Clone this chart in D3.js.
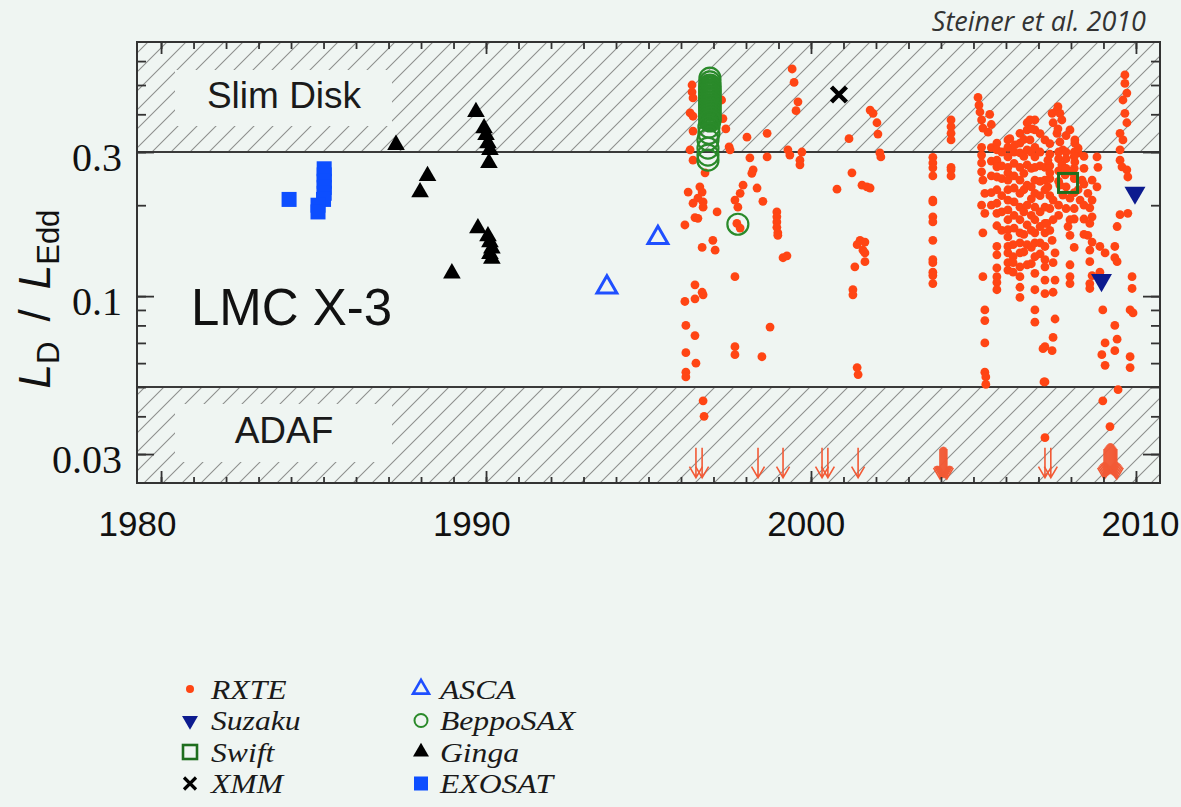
<!DOCTYPE html>
<html><head><meta charset="utf-8">
<script src="https://cdn.jsdelivr.net/npm/d3@7"></script>
<style>html,body{margin:0;padding:0;background:#eff5f2}svg{display:block}</style>
</head><body>
<svg id="chart" width="1181" height="807"></svg>
<script>
// ---------------- DATA ----------------
const rxte = [
[1996.34,0.500],[1996.34,0.474],[1996.37,0.453],[1996.28,0.404],[1996.37,0.394],[1996.37,0.352],[1996.28,0.305],[1996.37,0.282],[1996.74,0.256],[1996.22,0.221],[1996.58,0.230],[1996.65,0.221],[1996.52,0.211],[1996.37,0.203],[1996.68,0.205],[1996.68,0.197],[1996.43,0.182],[1996.52,0.181],[1996.12,0.172],[1997.11,0.190],[1996.98,0.153],[1996.65,0.145],[1997.05,0.142],[1996.43,0.109],[1996.65,0.103],[1996.68,0.101],[1996.43,0.098],[1996.12,0.096],[1996.15,0.080],[1996.43,0.074],[1996.15,0.065],[1996.46,0.060],[1996.15,0.056],[1996.15,0.054],[1996.68,0.045],[1996.71,0.040],[1997.25,0.446],
[1997.29,0.387],[1997.38,0.358],[1997.48,0.312],[1997.51,0.305],[1998.03,0.336],[1998.12,0.287],[1998.65,0.346],[1998.65,0.289],[1998.22,0.262],[1998.18,0.255],[1997.91,0.233],[1998.34,0.228],[1997.82,0.219],[1997.66,0.208],[1997.75,0.197],[1998.52,0.206],[1997.72,0.174],[1997.82,0.168],[1997.66,0.116],[1998.74,0.079],[1997.66,0.068],[1997.66,0.064],[1998.49,0.063],
[1998.95,0.190],[1998.95,0.183],[1998.95,0.176],[1998.95,0.169],[1998.98,0.162],[1998.98,0.159],[1999.14,0.134],[1999.26,0.136],
[1999.42,0.565],[1999.48,0.510],[1999.6,0.440],[1999.54,0.411],[1999.29,0.305],[1999.35,0.293],[1999.72,0.300],[1999.66,0.282],[1999.66,0.272],
[2000.8,0.226],[2001.26,0.256],[2001.17,0.332],[2001.57,0.233],[2001.72,0.230],[2001.82,0.228],[2001.82,0.413],[2001.91,0.403],[2002.03,0.375],[2002.06,0.344],[2002.12,0.298],[2002.15,0.289],[2001.51,0.153],[2001.66,0.151],[2001.42,0.148],[2001.6,0.142],[2001.66,0.139],[2001.66,0.130],[2001.35,0.125],[2001.29,0.105],[2001.29,0.101],[2001.42,0.058],[2001.45,0.055],
[2003.75,0.288],[2003.75,0.276],[2003.75,0.266],[2003.75,0.250],[2003.75,0.208],[2003.75,0.205],[2003.75,0.183],[2003.75,0.176],[2003.75,0.153],[2003.75,0.132],[2003.75,0.129],[2003.75,0.120],[2003.75,0.117],[2003.75,0.110],
[2004.31,0.383],[2004.31,0.364],[2004.31,0.346],[2004.31,0.329],[2004.31,0.267],[2004.31,0.262],[2004.31,0.250],
[2005.14,0.455],[2005.17,0.429],[2005.2,0.407],[2005.25,0.383],[2005.29,0.360],[2005.45,0.349],[2005.25,0.311],[2005.25,0.293],[2005.25,0.276],[2005.25,0.258],[2005.29,0.242],[2005.35,0.219],[2005.25,0.200],[2005.35,0.188],[2005.29,0.162],[2005.29,0.116],[2005.35,0.090],[2005.35,0.083],[2005.35,0.070],[2005.35,0.056],[2005.38,0.054],[2005.38,0.051],[2005.5,0.400],[2005.55,0.370],
[2005.55,0.310],[2005.55,0.280],[2005.55,0.250],[2005.55,0.220],[2005.55,0.200],
[2005.72,0.321],[2005.72,0.305],[2005.72,0.282],[2005.72,0.268],[2005.72,0.248],[2005.72,0.225],[2005.72,0.203],[2005.72,0.188],[2005.72,0.171],[2005.72,0.146],[2005.72,0.137],[2005.72,0.124],[2005.72,0.116],[2005.72,0.111],[2005.72,0.105],
[2005.87,0.300],[2005.87,0.270],[2005.87,0.245],[2005.87,0.215],[2005.87,0.190],[2005.87,0.165],
[2006.06,0.329],[2006.06,0.311],[2006.06,0.289],[2006.06,0.267],[2006.06,0.256],[2006.06,0.242],[2006.06,0.225],[2006.06,0.208],[2006.06,0.193],[2006.06,0.179],[2006.06,0.166],[2006.06,0.157],[2006.06,0.146],[2006.06,0.139],[2006.06,0.129],[2006.06,0.122],
[2006.22,0.148],[2006.22,0.135],[2006.22,0.129],[2006.22,0.120],
[2006.25,0.300],[2006.25,0.275],[2006.25,0.250],[2006.25,0.228],[2006.25,0.205],[2006.25,0.185],[2006.25,0.168],
[2006.43,0.346],[2006.43,0.321],[2006.43,0.298],[2006.43,0.267],[2006.43,0.242],[2006.43,0.219],[2006.43,0.197],[2006.43,0.179],[2006.43,0.162],[2006.43,0.150],[2006.43,0.139],[2006.43,0.125],[2006.43,0.116],[2006.43,0.107],[2006.43,0.099],
[2006.55,0.330],[2006.55,0.290],[2006.55,0.255],[2006.55,0.225],[2006.55,0.190],[2006.55,0.160],[2006.55,0.140],
[2006.65,0.375],[2006.65,0.355],[2006.65,0.305],[2006.65,0.272],[2006.65,0.233],[2006.65,0.200],[2006.65,0.172],[2006.65,0.148],[2006.65,0.127],
[2006.78,0.300],[2006.78,0.265],[2006.78,0.230],[2006.78,0.210],[2006.78,0.185],[2006.78,0.165],[2006.78,0.145],[2006.78,0.128],
[2006.89,0.383],[2006.89,0.355],[2006.89,0.311],[2006.89,0.289],[2006.89,0.267],[2006.89,0.242],[2006.89,0.219],[2006.89,0.197],[2006.89,0.179],[2006.89,0.162],[2006.89,0.150],[2006.89,0.135],[2006.89,0.119],[2006.89,0.105],[2006.89,0.090],[2006.89,0.082],
[2007.05,0.345],[2007.05,0.300],[2007.05,0.270],[2007.05,0.240],[2007.05,0.215],[2007.05,0.190],[2007.05,0.170],[2007.05,0.150],[2007.05,0.138],
[2007.2,0.329],[2007.2,0.267],[2007.2,0.242],[2007.2,0.225],[2007.2,0.197],[2007.2,0.174],[2007.2,0.162],[2007.2,0.146],[2007.2,0.132],[2007.2,0.125],[2007.2,0.113],[2007.2,0.102],[2007.2,0.068],[2007.2,0.052],[2007.2,0.034],
[2007.35,0.320],[2007.35,0.295],[2007.35,0.270],[2007.35,0.245],[2007.35,0.215],[2007.35,0.195],[2007.35,0.165],
[2007.42,0.403],[2007.57,0.413],[2007.66,0.403],[2007.45,0.375],[2007.57,0.346],[2007.66,0.324],[2007.75,0.305],[2007.29,0.282],[2007.35,0.256],[2007.29,0.230],[2007.45,0.208],[2007.26,0.174],[2007.45,0.179],[2007.42,0.153],[2007.51,0.139],[2007.45,0.129],[2007.51,0.113],[2007.45,0.103],[2007.51,0.084],[2007.45,0.073],[2007.14,0.067],[2007.42,0.066],[2007.17,0.052],
[2007.62,0.300],[2007.62,0.285],[2007.62,0.260],[2007.62,0.240],[2007.62,0.200],[2007.62,0.185],
[2007.72,0.272],[2007.82,0.252],[2007.66,0.233],[2007.75,0.216],
[2007.85,0.340],[2007.85,0.300],[2007.85,0.285],[2007.85,0.265],[2007.85,0.230],[2007.85,0.195],
[2007.97,0.355],[2008.12,0.321],[2008.22,0.298],[2008.12,0.278],[2008.06,0.256],[2008.34,0.242],[2007.97,0.211],[2007.97,0.179],[2007.91,0.170],[2007.97,0.159],[2007.97,0.127],[2007.97,0.116],[2007.97,0.110],[2008.22,0.225],[2008.28,0.208],
[2008.1,0.300],[2008.1,0.290],[2008.1,0.265],[2008.1,0.245],[2008.1,0.220],[2008.1,0.195],[2008.1,0.180],[2008.1,0.145],
[2008.4,0.290],[2008.4,0.265],[2008.4,0.235],[2008.4,0.200],[2008.4,0.180],[2008.4,0.160],
[2008.8,0.289],[2008.83,0.267],[2008.65,0.242],[2008.8,0.230],[2008.52,0.219],[2008.65,0.208],[2008.58,0.196],[2008.65,0.183],[2008.58,0.174],[2008.52,0.159],[2008.65,0.151],[2008.58,0.142],[2008.58,0.130],[2008.65,0.117],[2008.58,0.110],[2008.58,0.106],
[2008.89,0.146],[2009.05,0.139],[2008.89,0.120],[2008.98,0.090],[2009.35,0.080],[2009.05,0.070],[2009.05,0.059],[2008.98,0.045],[2009.45,0.049],[2009.2,0.037],[2009.42,0.072],[2009.35,0.066],[2008.95,0.064],[2009.42,0.130],[2009.35,0.134],[2009.42,0.170],[2009.35,0.146],[2009.51,0.186],[2009.75,0.188],
[2009.66,0.540],[2009.66,0.506],[2009.72,0.470],[2009.6,0.446],[2009.66,0.403],[2009.72,0.375],[2009.51,0.346],[2009.6,0.329],[2009.51,0.305],[2009.51,0.282],[2009.57,0.268],[2009.72,0.262],[2009.75,0.248],
[2009.88,0.116],[2009.88,0.106],[2009.82,0.090],[2009.91,0.088],[2009.82,0.063],[2009.82,0.058],
[2006.12,0.332],[2006.28,0.317],[2006.74,0.383],[2006.8,0.358],[2006.74,0.329],[2007.6,0.424],[2007.72,0.383],[2007.6,0.358],[2008.12,0.329],[2008.22,0.309]
];
const rxteUpperYears  = [1996.46,1996.65,1998.37,1999.14,2000.34,2000.52,2001.45,
                         2003.97,2004.0,2004.03,2004.06,2004.09,2004.12,2004.15,2004.18,
                         2007.2,2007.38,
                         2009.02,2009.05,2009.08,2009.11,2009.14,2009.17,2009.2,2009.23,2009.26,2009.29,2009.32,2009.35,2009.38,2009.41];
const rxteUpperValues = [0.0315,0.0315,0.0315,0.0315,0.0315,0.0315,0.0315,
                         0.0312,0.0315,0.0316,0.0317,0.0317,0.0316,0.0315,0.0312,
                         0.0315,0.0315,
                         0.0312,0.0315,0.0318,0.0321,0.0323,0.0325,0.0326,0.0326,0.0325,0.0323,0.0321,0.0318,0.0315,0.0312];
const suzaku   = [[2008.94,0.113],[2009.97,0.220]];
const swift    = [[2007.91,0.237]];
const xmm      = [[2000.86,0.465]];
const asca     = [[1993.72,0.107],[1995.29,0.156]];
const beppoSAX = [[1996.89,0.527],[1996.89,0.512],[1996.89,0.500],[1996.89,0.494],[1996.89,0.488],[1996.89,0.482],[1996.89,0.477],[1996.89,0.472],[1996.89,0.467],[1996.89,0.461],[1996.89,0.456],[1996.89,0.451],[1996.89,0.446],[1996.89,0.441],[1996.89,0.436],[1996.89,0.431],[1996.89,0.426],[1996.89,0.421],[1996.89,0.417],[1996.89,0.412],[1996.89,0.407],[1996.89,0.402],[1996.89,0.398],[1996.89,0.393],[1996.89,0.389],[1996.89,0.384],[1996.89,0.380],[1996.86,0.363],[1996.86,0.346],[1996.83,0.329],[1996.83,0.309],[1996.83,0.293],[1996.83,0.282],[1997.75,0.173]];
const ginga    = [[1987.23,0.317],[1987.97,0.221],[1988.2,0.250],[1988.95,0.119],[1989.69,0.407],[1989.94,0.360],[1990.0,0.342],[1990.06,0.321],[1990.12,0.305],[1990.09,0.276],[1989.75,0.168],[1990.06,0.158],[1990.12,0.151],[1990.18,0.144],[1990.12,0.138],[1990.18,0.133]];
const exosat   = [[1983.94,0.209],[1985.02,0.264],[1985.02,0.252],[1985.02,0.240],[1985.02,0.229],[1985.02,0.219],[1985.0,0.209],[1984.83,0.200],[1984.83,0.190]];
const regionLimits = [0.05, 0.3];          // ADAF below, slim disk above
const xTickLabels  = [1980, 1990, 2000, 2010];
const xMinorTicks  = d3.range(1980, 2011);
const yTickLabels  = [0.03, 0.1, 0.3];
const yMinorTicks  = [0.03,0.04,0.05,0.06,0.07,0.08,0.09,0.1,0.2,0.3,0.4,0.5,0.6];
const legendCol1   = ["RXTE","Suzaku","Swift","XMM"];
const legendCol2   = ["ASCA","BeppoSAX","Ginga","EXOSAT"];

// ---------------- LAYOUT ----------------
const L = 137, R = 1160, T = 42, B = 483;
const svg = d3.select("#chart");
const x = d3.scaleLinear().domain([1979.26, 2010.74]).range([L, R]);
const y = d3.scaleLog().domain([0.02406, 0.694]).range([B, T]);
const xLab = d3.scaleLinear().domain([1980, 2010]).range([137, 1140]);

const C = {rxte:"#ff4514", suzaku:"#0c1b8f", swift:"#1e6e1e", xmm:"#000", asca:"#1f4fff", beppo:"#2a8a2a", ginga:"#000", exosat:"#0d4eff", arrow:"#f25a36"};

svg.append("rect").attr("width",1181).attr("height",807).attr("fill","#eff5f2");

const defs = svg.append("defs");
const pat = defs.append("pattern").attr("id","hatch").attr("patternUnits","userSpaceOnUse").attr("width",19).attr("height",19);
pat.append("path").attr("d","M-2,2 L2,-2 M0,19 L19,0 M17,21 L21,17").attr("stroke","#8e8f8e").attr("stroke-width",1.1);

svg.append("rect").attr("x",L).attr("y",T).attr("width",R-L).attr("height",y(regionLimits[1])-T).attr("fill","url(#hatch)");
svg.append("rect").attr("x",L).attr("y",y(regionLimits[0])).attr("width",R-L).attr("height",B-y(regionLimits[0])).attr("fill","url(#hatch)");
svg.append("rect").attr("x",175).attr("y",70).attr("width",217).attr("height",56).attr("fill","#eff5f2");
svg.append("rect").attr("x",175).attr("y",404).attr("width",217).attr("height",58).attr("fill","#eff5f2");
svg.append("text").attr("x",284).attr("y",108).attr("text-anchor","middle").attr("font-family","Liberation Sans, Arial").attr("font-size",37).attr("fill","#1a1a1a").text("Slim Disk");
svg.append("text").attr("x",284).attr("y",443).attr("text-anchor","middle").attr("font-family","Liberation Sans, Arial").attr("font-size",37).attr("fill","#1a1a1a").text("ADAF");
svg.append("text").attr("x",191).attr("y",325).attr("font-family","Liberation Sans, Arial").attr("font-size",51).attr("fill","#111").text("LMC X-3");

svg.selectAll("line.reg").data(regionLimits).join("line").attr("class","reg")
  .attr("x1",L).attr("x2",R).attr("y1",d=>y(d)).attr("y2",d=>y(d)).attr("stroke","#3a3a3a").attr("stroke-width",2);

// ---------------- MARKS ----------------
const g = svg.append("g");
g.selectAll("circle.rxte").data(rxte).join("circle").attr("class","rxte")
  .attr("cx",d=>x(d[0])).attr("cy",d=>y(d[1])).attr("r",4.4).attr("fill",C.rxte);

const arrowLen = 30;
g.selectAll("path.ul").data(rxteUpperYears.map((yr,i)=>[yr,rxteUpperValues[i]])).join("path").attr("class","ul")
  .attr("d",d=>{const cx=x(d[0]), y0=y(d[1]), y1=y0+arrowLen; return `M${cx},${y0} L${cx},${y1} M${cx-6.5},${y1-11} L${cx},${y1} L${cx+6.5},${y1-11}`;})
  .attr("fill","none").attr("stroke",C.arrow).attr("stroke-width",1.6);

const tri = d3.symbol(d3.symbolTriangle);
g.selectAll("path.ginga").data(ginga).join("path").attr("class","ginga")
  .attr("transform",d=>`translate(${x(d[0])},${y(d[1])})`).attr("d",tri.size(135)()).attr("fill",C.ginga);
g.selectAll("rect.exosat").data(exosat).join("rect").attr("class","exosat")
  .attr("x",d=>x(d[0])-7.5).attr("y",d=>y(d[1])-7.5).attr("width",15).attr("height",15).attr("fill",C.exosat);
g.selectAll("path.asca").data(asca).join("path").attr("class","asca")
  .attr("transform",d=>`translate(${x(d[0])},${y(d[1])})`).attr("d",d3.symbol(d3.symbolTriangle,170)()).attr("fill","none").attr("stroke",C.asca).attr("stroke-width",3);
g.selectAll("circle.beppo").data(beppoSAX).join("circle").attr("class","beppo")
  .attr("cx",d=>x(d[0])).attr("cy",d=>y(d[1])).attr("r",10.5).attr("fill","none").attr("stroke",C.beppo).attr("stroke-width",2.2);
g.selectAll("path.xmm").data(xmm).join("path").attr("class","xmm")
  .attr("d",d=>{const cx=x(d[0]),cy=y(d[1]),r=7.5;return `M${cx-r},${cy-r}L${cx+r},${cy+r}M${cx-r},${cy+r}L${cx+r},${cy-r}`;})
  .attr("stroke",C.xmm).attr("stroke-width",4.5).attr("fill","none");
g.selectAll("rect.swift").data(swift).join("rect").attr("class","swift")
  .attr("x",d=>x(d[0])-9.5).attr("y",d=>y(d[1])-9.5).attr("width",19).attr("height",19).attr("fill","none").attr("stroke",C.swift).attr("stroke-width",3);
g.selectAll("path.suzaku").data(suzaku).join("path").attr("class","suzaku")
  .attr("transform",d=>`translate(${x(d[0])},${y(d[1])}) rotate(180)`).attr("d",d3.symbol(d3.symbolTriangle,190)()).attr("fill",C.suzaku);

// ---------------- FRAME & AXES ----------------
svg.append("rect").attr("x",L).attr("y",T).attr("width",R-L).attr("height",B-T).attr("fill","none").attr("stroke","#333").attr("stroke-width",2);
function tickAxis(axis, tr, vals, size){
  svg.append("g").attr("transform",tr).call(axis.tickValues(vals).tickSize(size).tickFormat(""))
    .call(s=>{s.select(".domain").remove(); s.selectAll("line").attr("stroke","#333").attr("stroke-width",1.8);});
}
tickAxis(d3.axisBottom(x), `translate(0,${B})`, xMinorTicks, -6);
tickAxis(d3.axisBottom(x), `translate(0,${B})`, xTickLabels, -12);
tickAxis(d3.axisTop(x), `translate(0,${T})`, xMinorTicks, -7);
tickAxis(d3.axisTop(x), `translate(0,${T})`, xTickLabels, -12);
tickAxis(d3.axisLeft(y), `translate(${L},0)`, yMinorTicks, -9);
tickAxis(d3.axisLeft(y), `translate(${L},0)`, yTickLabels, -17);
tickAxis(d3.axisRight(y), `translate(${R},0)`, yMinorTicks, -9);
tickAxis(d3.axisRight(y), `translate(${R},0)`, yTickLabels, -17);

svg.append("g").attr("transform",`translate(${L},0)`)
  .call(d3.axisLeft(y).tickValues(yTickLabels).tickSize(0).tickPadding(15).tickFormat(d3.format("")))
  .call(s=>{s.select(".domain").remove(); s.selectAll("text").attr("font-family","Liberation Serif, Times New Roman").attr("font-size",40).attr("fill","#111").attr("dy","0.45em");});
svg.append("g").attr("transform",`translate(0,${B})`)
  .call(d3.axisBottom(xLab).tickValues(xTickLabels).tickSize(0).tickFormat(d3.format("d")))
  .call(s=>{s.select(".domain").remove(); s.selectAll("text").attr("font-family","Liberation Sans, Arial").attr("font-size",35).attr("fill","#111").attr("dy",null).attr("y",53);});

// y label
const yl = svg.append("text").attr("transform","translate(50,299) rotate(-90)").attr("text-anchor","middle")
  .attr("font-family","Liberation Sans, Arial").attr("font-size",44).attr("fill","#111");
yl.append("tspan").attr("font-style","italic").text("L");
yl.append("tspan").attr("font-size",31).attr("dy",9).text("D");
yl.append("tspan").attr("dy",-9).attr("dx",20).text("/");
yl.append("tspan").attr("dx",20).attr("font-style","italic").text("L");
yl.append("tspan").attr("font-size",31).attr("dy",9).text("Edd");

svg.append("text").attr("x",1146).attr("y",31).attr("text-anchor","end").attr("font-family","Open Sans, Liberation Sans").attr("font-style","italic").attr("font-size",27).attr("fill","#333").text("Steiner et al. 2010");

// ---------------- LEGEND ----------------
const lg = svg.append("g");
const rowY = i => 689 + i*31.5;
const lf = (s,x0,yy) => s.attr("transform",`translate(${x0},${yy}) scale(1.13,1)`).attr("font-family","Liberation Serif, Times New Roman").attr("font-style","italic").attr("font-size",28).attr("fill","#1a1a1a").attr("dy","0.35em");
legendCol1.forEach((t,i)=>lf(lg.append("text").text(t),211,rowY(i)));
legendCol2.forEach((t,i)=>lf(lg.append("text").text(t),440,rowY(i)));
lg.append("circle").attr("cx",190).attr("cy",rowY(0)).attr("r",4).attr("fill",C.rxte);
lg.append("path").attr("transform",`translate(190,${rowY(1)}) rotate(180)`).attr("d",d3.symbol(d3.symbolTriangle,110)()).attr("fill",C.suzaku);
lg.append("rect").attr("x",183).attr("y",rowY(2)-7).attr("width",14).attr("height",14).attr("fill","none").attr("stroke",C.swift).attr("stroke-width",2.6);
lg.append("path").attr("d",`M184,${rowY(3)-6}L196,${rowY(3)+6}M184,${rowY(3)+6}L196,${rowY(3)-6}`).attr("stroke","#000").attr("stroke-width",3.2);
lg.append("path").attr("transform",`translate(421,${rowY(0)})`).attr("d",d3.symbol(d3.symbolTriangle,110)()).attr("fill","none").attr("stroke",C.asca).attr("stroke-width",2.6);
lg.append("circle").attr("cx",421).attr("cy",rowY(1)).attr("r",6.5).attr("fill","none").attr("stroke",C.beppo).attr("stroke-width",2);
lg.append("path").attr("transform",`translate(421,${rowY(2)})`).attr("d",d3.symbol(d3.symbolTriangle,110)()).attr("fill","#000");
lg.append("rect").attr("x",414).attr("y",rowY(3)-7).attr("width",14).attr("height",14).attr("fill",C.exosat);
</script>
</body></html>
